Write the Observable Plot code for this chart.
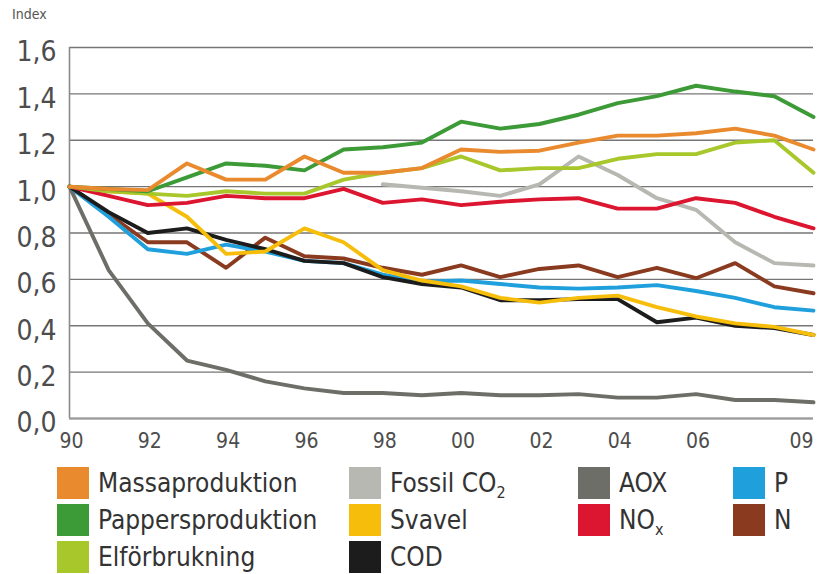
<!DOCTYPE html>
<html>
<head>
<meta charset="utf-8">
<script src="https://cdn.jsdelivr.net/npm/d3@7"></script>
<script src="https://cdn.jsdelivr.net/npm/@observablehq/plot@0.6"></script>
<style>
  html, body { margin: 0; padding: 0; background: #fff; }
  #wrap { position: relative; width: 824px; height: 574px; overflow: hidden;
          font-family: "DejaVu Sans Condensed", "DejaVu Sans", sans-serif; font-stretch: condensed; }
  #index { position: absolute; left: 12px; top: 6px; font-size: 14px; color: #555; }
  #chart { position: absolute; left: 0; top: 0; }
  .lg { position: absolute; height: 32px; display: flex; align-items: center; }
  .lg .sw { width: 32px; height: 32px; margin-right: 9px; }
  .lg .tx { font-size: 26px; color: #333; white-space: nowrap; }
  .lg sub { font-size: 16px; vertical-align: -6px; line-height: 0; }
</style>
</head>
<body>
<div id="wrap">
  <div id="chart"></div>
  <div id="index">Index</div>
  <div id="legend"></div>
</div>
<script>
// ---- data ----
const years = [1990, 1991, 1992, 1993, 1994, 1995, 1996, 1997, 1998, 1999,
               2000, 2001, 2002, 2003, 2004, 2005, 2006, 2007, 2008, 2009];

const massaproduktion   = [1.00, 0.99, 0.985, 1.10, 1.03, 1.03, 1.13, 1.06, 1.06, 1.08, 1.16, 1.15, 1.155, 1.19, 1.22, 1.22, 1.23, 1.25, 1.22, 1.16];
const pappersproduktion = [1.00, 0.99, 0.98, 1.04, 1.10, 1.09, 1.07, 1.16, 1.17, 1.19, 1.28, 1.25, 1.27, 1.31, 1.36, 1.39, 1.435, 1.41, 1.39, 1.30];
const elforbrukning     = [1.00, 0.98, 0.97, 0.96, 0.98, 0.97, 0.97, 1.03, 1.06, 1.08, 1.13, 1.07, 1.08, 1.08, 1.12, 1.14, 1.14, 1.19, 1.20, 1.06];
const fossilCO2         = [null, null, null, null, null, null, null, null, 1.01, 0.995, 0.98, 0.96, 1.01, 1.13, 1.05, 0.95, 0.90, 0.76, 0.67, 0.66];
const svavel            = [1.00, 0.98, 0.97, 0.87, 0.71, 0.72, 0.82, 0.76, 0.64, 0.595, 0.57, 0.52, 0.50, 0.52, 0.53, 0.48, 0.44, 0.41, 0.395, 0.36];
const cod               = [1.00, 0.89, 0.80, 0.82, 0.77, 0.73, 0.68, 0.67, 0.61, 0.58, 0.565, 0.51, 0.51, 0.515, 0.515, 0.415, 0.435, 0.40, 0.39, 0.36];
const aox               = [1.00, 0.64, 0.41, 0.25, 0.21, 0.16, 0.13, 0.11, 0.11, 0.10, 0.11, 0.10, 0.10, 0.105, 0.09, 0.09, 0.105, 0.08, 0.08, 0.07];
const nox               = [1.00, 0.96, 0.92, 0.93, 0.96, 0.95, 0.95, 0.99, 0.93, 0.945, 0.92, 0.935, 0.945, 0.95, 0.905, 0.905, 0.95, 0.93, 0.87, 0.82];
const p                 = [1.00, 0.87, 0.73, 0.71, 0.75, 0.72, 0.68, 0.67, 0.62, 0.59, 0.595, 0.58, 0.565, 0.56, 0.565, 0.575, 0.55, 0.52, 0.48, 0.465];
const n                 = [1.00, 0.88, 0.76, 0.76, 0.65, 0.78, 0.70, 0.69, 0.65, 0.62, 0.66, 0.61, 0.645, 0.66, 0.61, 0.65, 0.605, 0.67, 0.57, 0.54];

const seriesNames  = ["Massaproduktion", "Pappersproduktion", "Elförbrukning", "Fossil CO2", "Svavel", "COD", "AOX", "NOx", "P", "N"];
const seriesValues = [massaproduktion, pappersproduktion, elforbrukning, fossilCO2, svavel, cod, aox, nox, p, n];
const seriesColors = ["#EA8A2E", "#3C9A37", "#A8C72A", "#B8B8B2", "#F6BE0A", "#1C1C1C", "#6E6E68", "#DC1530", "#1FA0DC", "#8A3B1F"];
const legendHTML   = ["Massaproduktion", "Pappersproduktion", "Elförbrukning", "Fossil CO<sub>2</sub>", "Svavel", "COD", "AOX", "NO<sub>x</sub>", "P", "N"];

const yTicks = [0, 0.2, 0.4, 0.6, 0.8, 1.0, 1.2, 1.4, 1.6];
const xTicks = [1990, 1992, 1994, 1996, 1998, 2000, 2002, 2004, 2006];
const xLastTick = [2009];

// drawing order (first = bottom)
const drawOrder = ["AOX", "N", "P", "COD", "Svavel", "Fossil CO2", "NOx", "Elförbrukning", "Pappersproduktion", "Massaproduktion"];

const rows = drawOrder.flatMap(name => {
  const vals = seriesValues[seriesNames.indexOf(name)];
  return years.map((year, i) => ({series: name, year, value: vals[i]})).filter(d => d.value != null);
});

const yearLabel = d => String(d).slice(2);
const W = 824, H = 456;
const chart = Plot.plot({
  width: W,
  height: H,
  marginLeft: 69,
  marginRight: 11,
  marginTop: 47,
  marginBottom: H - 418,
  style: {fontFamily: '"DejaVu Sans Condensed", "DejaVu Sans", sans-serif', background: "transparent"},
  x: {domain: [1990, 2009]},
  y: {domain: [0, 1.6]},
  color: {domain: seriesNames, range: seriesColors},
  marks: [
    Plot.gridY(yTicks, {stroke: "#767676", strokeOpacity: 1, strokeWidth: 1.4}),
    Plot.ruleX([1990], {stroke: "#8a8a8a", strokeWidth: 1.6}),
    Plot.ruleY([0], {stroke: "#9a9a9a", strokeWidth: 2}),
    Plot.line(rows, {x: "year", y: "value", z: "series", stroke: "series",
      strokeWidth: 3.9, strokeLinejoin: "round", strokeLinecap: "round", curve: "linear"}),
    Plot.axisY(yTicks, {tickSize: 0, tickPadding: 13, fontSize: 28, fill: "#4d4d4d",
      dy: 5, tickFormat: d => d.toFixed(1).replace(".", ","), label: null}),
    Plot.axisX(xTicks, {tickSize: 0, tickPadding: 15, fontSize: 21, fill: "#4d4d4d",
      dx: 2, tickFormat: yearLabel, label: null}),
    Plot.axisX(xLastTick, {tickSize: 0, tickPadding: 15, fontSize: 21, fill: "#4d4d4d",
      textAnchor: "end", dx: 0, tickFormat: yearLabel, label: null})
  ]
});
document.getElementById("chart").appendChild(chart);

// ---- legend ----
const colX = [57, 349, 578, 733];
const rowY = [467, 504, 541];
const layout = [
  ["Massaproduktion", 0, 0], ["Pappersproduktion", 0, 1], ["Elförbrukning", 0, 2],
  ["Fossil CO2", 1, 0], ["Svavel", 1, 1], ["COD", 1, 2],
  ["AOX", 2, 0], ["NOx", 2, 1],
  ["P", 3, 0], ["N", 3, 1]
];
const lg = document.getElementById("legend");
for (const [name, c, r] of layout) {
  const i = seriesNames.indexOf(name);
  const item = document.createElement("div");
  item.className = "lg";
  item.style.left = colX[c] + "px";
  item.style.top = rowY[r] + "px";
  item.innerHTML = `<div class="sw" style="background:${seriesColors[i]}"></div><div class="tx">${legendHTML[i]}</div>`;
  lg.appendChild(item);
}
</script>
</body>
</html>
